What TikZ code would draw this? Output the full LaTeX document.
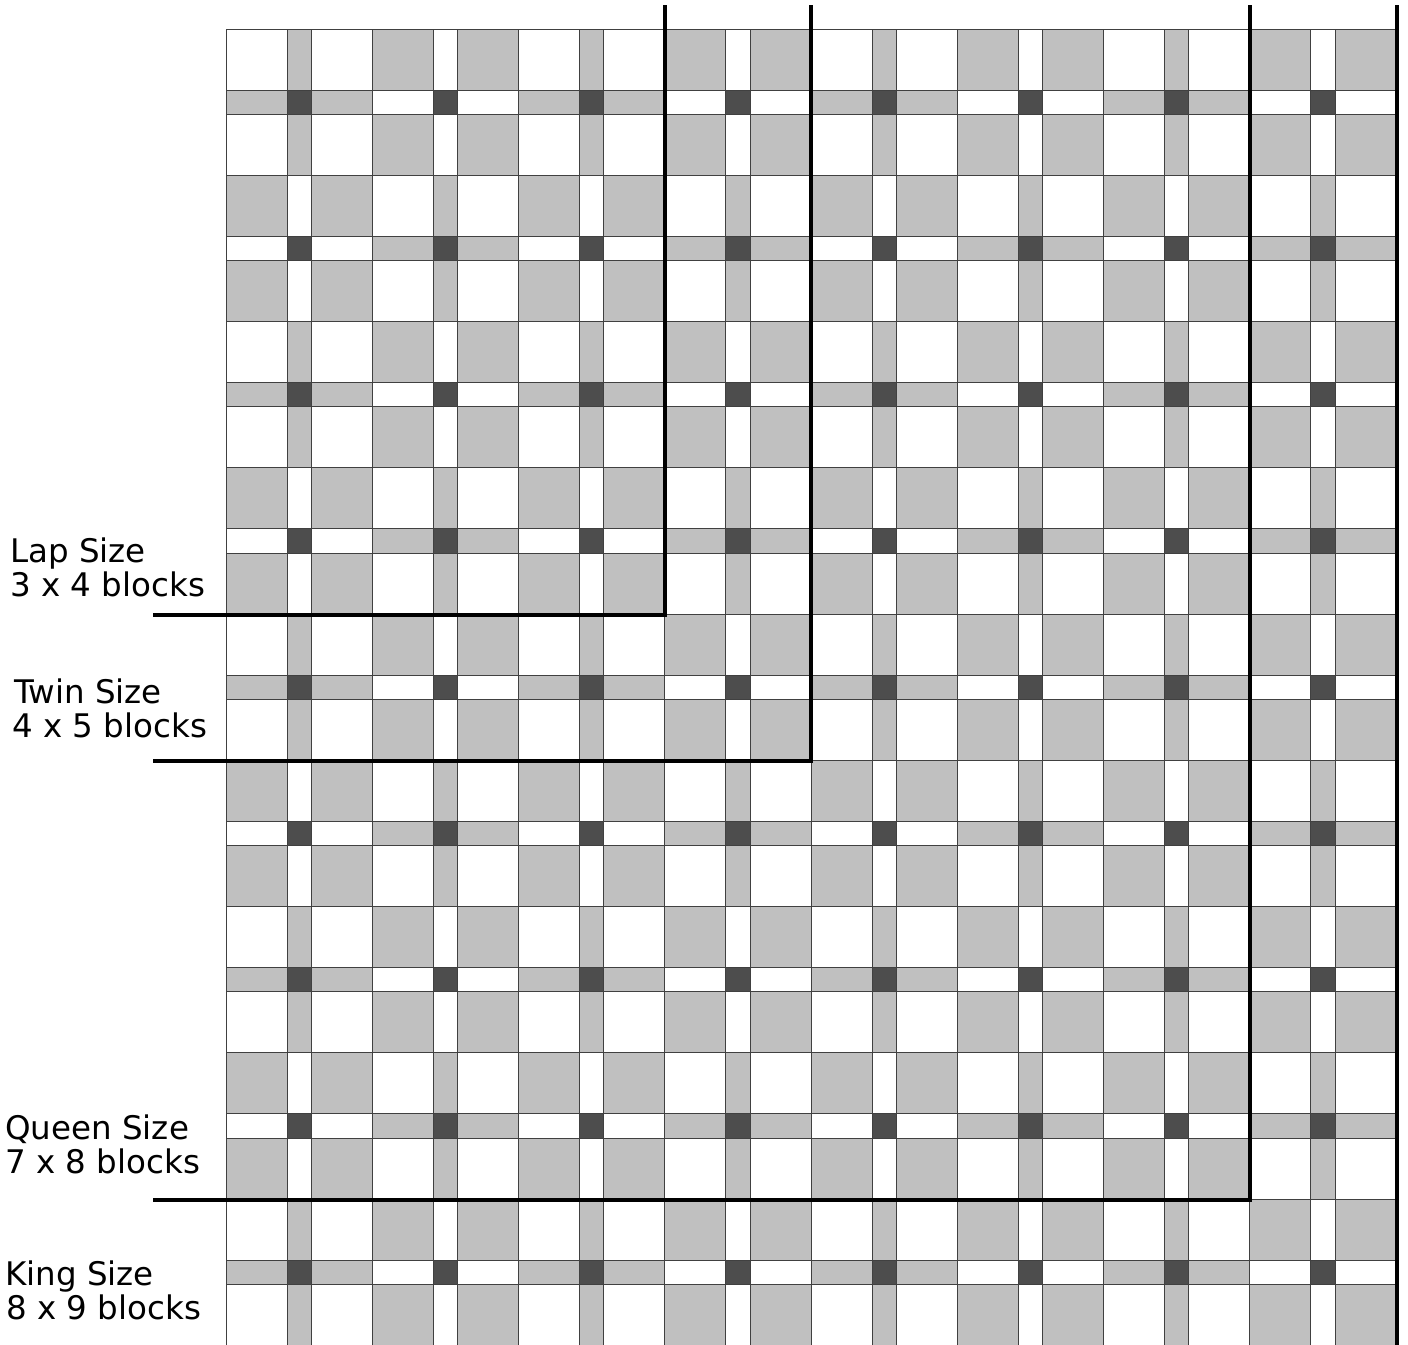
\documentclass[tikz,border=0pt]{standalone}
\usepackage{fontspec}
\setmainfont{DejaVu Sans}
\definecolor{cell0}{HTML}{FFFFFF}
\definecolor{cell1}{HTML}{C0C0C0}
\definecolor{cell2}{HTML}{4D4D4D}
\definecolor{gridline}{HTML}{404040}
\tikzset{
  cellline/.style={draw=gridline, line width=0.9pt},
  sizeline/.style={draw=black, line width=4pt, line join=miter},
  sizelabel/.style={anchor=base west, inner sep=0pt, font=\fontsize{32.5}{38}\selectfont}
}
\begin{document}
\begin{tikzpicture}[x=1pt,y=-1pt]
\useasboundingbox (0,0) rectangle (1408,1344);
\fill[white] (0,0) rectangle (1408,1344);
\begin{scope}
\clip (0,0) rectangle (1408,1344);
\foreach \bi in {0,...,7}{
  \foreach \bj in {0,...,8}{
    \foreach \r/\ry/\rh in {0/0/61,1/61/24.25,2/85.25/61}{
      \foreach \c/\cx/\cw in {0/0/61,1/61/24.25,2/85.25/61}{
        \pgfmathtruncatemacro\k{and(\r==1,\c==1) ? 2 : mod(\r+\c+\bi+\bj,2)}
        \pgfmathsetmacro\xx{226+\bi*146.25+\cx}
        \pgfmathsetmacro\yy{29+\bj*146.25+\ry}
        \draw[cellline, fill=cell\k] (\xx,\yy) rectangle ++(\cw,\rh);
      }
    }
  }
}
% size outlines
\draw[sizeline] (153,614.5) -- (665,614.5) -- (665,5);
\draw[sizeline] (153,760.5) -- (811,760.5) -- (811,5);
\draw[sizeline] (153,1199.5) -- (1250,1199.5) -- (1250,5);
\draw[sizeline] (1396.5,1350) -- (1396.5,5);
\end{scope}
% labels
\node[sizelabel] (lap1) at (10,562) {Lap Size};
\node[sizelabel] (lap2) at (10,596) {3 x 4 blocks};
\node[sizelabel] (twin1) at (14,703) {Twin Size};
\node[sizelabel] (twin2) at (12,737) {4 x 5 blocks};
\node[sizelabel] (queen1) at (5,1139) {Queen Size};
\node[sizelabel] (queen2) at (5,1173) {7 x 8 blocks};
\node[sizelabel] (king1) at (5,1285) {King Size};
\node[sizelabel] (king2) at (6,1319) {8 x 9 blocks};
\end{tikzpicture}
\end{document}
